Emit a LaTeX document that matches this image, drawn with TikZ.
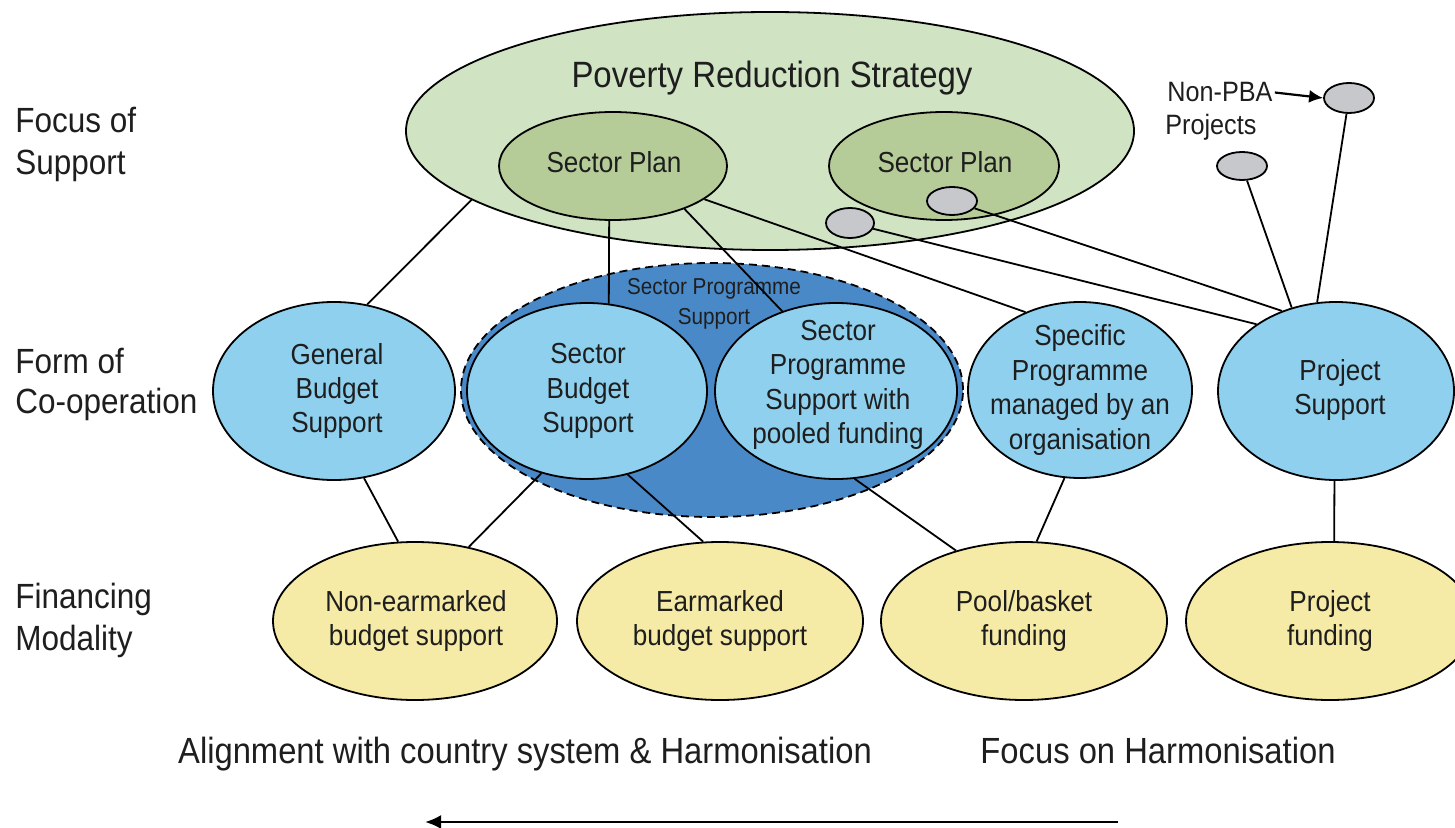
\documentclass[tikz,border=0pt]{standalone}
\usepackage{fontspec}
\setmainfont[FakeStretch=0.9]{Liberation Sans}
\usetikzlibrary{shapes.geometric,arrows.meta}
\definecolor{prsfill}{HTML}{D0E3C3}
\definecolor{spfill}{HTML}{B6CC98}
\definecolor{greyfill}{HTML}{C7C8CC}
\definecolor{lblue}{HTML}{8ED0EE}
\definecolor{dblue}{HTML}{4A89C7}
\definecolor{yell}{HTML}{F6EBA6}
\definecolor{ink}{HTML}{1E1E1E}
\begin{document}
\begin{tikzpicture}[x=0.5pt,y=-0.5pt,
  oval/.style={ellipse, draw=black, line width=0.9pt, inner sep=0pt},
  lab/.style={font=\fontsize{17.5}{21}\selectfont, text=ink, inner sep=0pt},
  bottomlab/.style={font=\fontsize{18.2}{21}\selectfont, text=ink, inner sep=0pt},
  intext/.style={font=\fontsize{14.5}{17.2}\selectfont, align=center, text=ink, inner sep=0pt},
  small/.style={font=\fontsize{11.5}{15}\selectfont, text=ink, inner sep=0pt},
  conn/.style={draw=black, line width=0.9pt}
]
\useasboundingbox (0,0) rectangle (1455,828);

% Focus of support
\node[oval, fill=prsfill, minimum width=364pt, minimum height=119pt] (prs) at (770,131) {};
\node[oval, fill=spfill, minimum width=114pt, minimum height=54pt] (sp1) at (613,166) {};
\node[oval, fill=spfill, minimum width=115pt, minimum height=54pt] (sp2) at (944,166) {};
\node[oval, fill=greyfill, minimum width=24pt, minimum height=15pt] (greya) at (850,223) {};
\node[oval, fill=greyfill, minimum width=25pt, minimum height=14pt] (greyb) at (952,201) {};
\node[oval, fill=greyfill, minimum width=25pt, minimum height=14pt] (greyc) at (1242,166) {};
\node[oval, fill=greyfill, minimum width=25pt, minimum height=15pt] (greyd) at (1349,98) {};

% Form of co-operation
\node[oval, dash pattern=on 4pt off 2.5pt, fill=dblue, minimum width=251pt, minimum height=127pt] (sps) at (712,390) {};
\node[oval, fill=lblue, minimum width=121pt, minimum height=89pt] (gbs) at (334,391) {};
\node[oval, fill=lblue, minimum width=120pt, minimum height=88pt] (sbs) at (587,391) {};
\node[oval, fill=lblue, minimum width=121pt, minimum height=88pt] (spsp) at (836,391) {};
\node[oval, fill=lblue, minimum width=112pt, minimum height=88pt] (spec) at (1080,390) {};
\node[oval, fill=lblue, minimum width=118pt, minimum height=89pt] (ps) at (1336,391) {};

% Financing modality
\node[oval, fill=yell, minimum width=142pt, minimum height=79pt] (ne) at (415,621) {};
\node[oval, fill=yell, minimum width=143pt, minimum height=79pt] (em) at (720,621) {};
\node[oval, fill=yell, minimum width=143pt, minimum height=79pt] (pool) at (1024,621) {};
\node[oval, fill=yell, minimum width=144pt, minimum height=79pt] (pf) at (1330,621) {};

% texts
\node[lab, anchor=base west] (l1a) at (15,133) {Focus of};
\node[lab, anchor=base west] (l1b) at (15,175) {Support};
\node[lab, anchor=base west] (l2a) at (15,373) {Form of};
\node[lab, anchor=base west] (l2b) at (15,413) {Co-operation};
\node[lab, anchor=base west] (l3a) at (15,608) {Financing};
\node[lab, anchor=base west] (l3b) at (15,650) {Modality};

\node[font=\fontsize{18.3}{21}\selectfont, text=ink, inner sep=0pt, anchor=base] (prst) at (772,88) {Poverty Reduction Strategy};
\node[intext, anchor=base] (sp1t) at (614,173) {Sector Plan};
\node[intext, anchor=base] (sp2t) at (945,173) {Sector Plan};
\node[font=\fontsize{14}{17}\selectfont, text=ink, inner sep=1pt, anchor=base west] (npba) at (1165,102) {Non-PBA};
\node[font=\fontsize{14}{17}\selectfont, text=ink, inner sep=1pt, anchor=base west] (nproj) at (1163,135) {Projects};

\node[small, anchor=base] (spsa) at (714,295) {Sector Programme};
\node[small, anchor=base] (spsb) at (714,325) {Support};

\node[intext] (gbst) at (337,391) {General\\Budget\\Support};
\node[intext] (sbst) at (588,391) {Sector\\Budget\\Support};
\node[intext] (spspt) at (838,385) {Sector\\Programme\\Support with\\pooled funding};
\node[intext] (spect) at (1080,390) {Specific\\Programme\\managed by an\\organisation};
\node[intext] (pst) at (1340,390) {Project\\Support};

\node[intext] (net) at (416,621) {Non-earmarked\\budget support};
\node[intext] (emt) at (720,621) {Earmarked\\budget support};
\node[intext] (poolt) at (1024,621) {Pool/basket\\funding};
\node[intext] (pft) at (1330,621) {Project\\funding};

\node[bottomlab, anchor=base] (b1) at (525,763) {Alignment with country system \& Harmonisation};
\node[bottomlab, anchor=base] (b2) at (1158,763) {Focus on Harmonisation};

% connectors
\draw[conn] (prs.193) -- (gbs.69);
\draw[conn] (sp1.266) -- (sbs.76);
\draw[conn] (sp1.329) -- (spsp.124);
\draw[conn] (sp1.340) -- (spec.125);
\draw[conn] (greya.346) -- (ps.140);
\draw[conn] (greyb.342) -- (ps.124);
\draw[conn] (greyc.289) -- (ps.118);
\draw[conn] (greyd.261) -- (ps.102);
\draw[conn] (gbs.289) -- (ne.102);
\draw[conn] (sbs.241) -- (ne.54);
\draw[conn] (sbs.296) -- (em.102);
\draw[conn] (spsp.282) -- (pool.134);
\draw[conn] (spec.260) -- (pool.81);
\draw[conn] (ps.269) -- (pf.87);

\draw[conn, line width=1.1pt, -{Latex[length=7pt,width=6.5pt]}] (npba.east) -- (greyd.west);

\coordinate (arrS) at (1118,822);
\coordinate (arrE) at (425,822);
\draw[draw=black, line width=1.2pt, -{Latex[length=8pt,width=7pt]}] (arrS) -- (arrE);
\end{tikzpicture}
\end{document}
